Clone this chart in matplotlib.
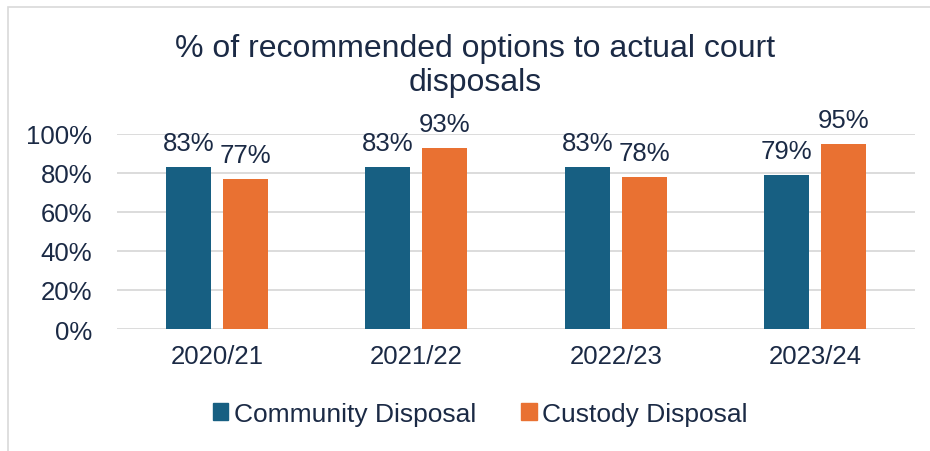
import matplotlib
matplotlib.use("Agg")
import matplotlib.pyplot as plt
from matplotlib.patches import Rectangle, Patch
import numpy as np

categories = ["2020/21", "2021/22", "2022/23", "2023/24"]
community = [83, 83, 83, 79]
custody = [77, 93, 78, 95]
series_names = ["Community Disposal", "Custody Disposal"]
yticks = [0, 20, 40, 60, 80, 100]

c_blue = "#175f82"
c_orange = "#e97132"
txt = "#1b2a45"
grid = "#d9d9d9"

plt.rcParams['font.family'] = ['Liberation Sans', 'DejaVu Sans']

fig = plt.figure(figsize=(9.3, 4.52), dpi=100)
ax = fig.add_axes([117/930, 1-330/452, (915-117)/930, (330-135)/452])

x = np.arange(len(categories))
w = 0.226
off = 0.143
b1 = ax.bar(x - off, community, w, color=c_blue, zorder=3)
b2 = ax.bar(x + off, custody, w, color=c_orange, zorder=3)

for bars, vals in ((b1, community), (b2, custody)):
    for r, v in zip(bars, vals):
        ax.annotate(f"{v}%", (r.get_x() + r.get_width()/2, v),
                    xytext=(0, 12), textcoords="offset points",
                    ha="center", va="baseline", fontsize=18.5, color=txt,
                    annotation_clip=False)

ax.set_xlim(-0.5, len(categories) - 0.5)
ax.set_ylim(0, 100)
ax.set_yticks(yticks)
ax.set_yticklabels([f"{t}%" for t in yticks])
ax.set_xticks(x)
ax.set_xticklabels(categories)
ax.tick_params(axis="both", length=0, labelsize=18.5, labelcolor=txt)
ax.tick_params(axis="y", pad=18)
ax.tick_params(axis="x", pad=11)
ax.yaxis.grid(True, color=grid, linewidth=1.3, zorder=0)
ax.set_axisbelow(True)
for s in ax.spines.values():
    s.set_visible(False)

fig.text(475/930, 1-66/452, "% of recommended options to actual court\ndisposals",
         ha="center", va="center", fontsize=23, color=txt, linespacing=1.15)

handles = [Patch(color=c_blue), Patch(color=c_orange)]
fig.legend(handles, series_names, loc="center", bbox_to_anchor=(480/930, 1-415/452),
           ncol=2, frameon=False, fontsize=19, labelcolor=txt,
           handlelength=0.6, handleheight=0.6, handletextpad=0.2, columnspacing=1.7)

fig.patches.append(Rectangle((8/930, -0.1), 1.2, 1.1 - 8/452, transform=fig.transFigure,
                             fill=False, edgecolor=grid, linewidth=1.2))

fig.savefig("out.png", dpi=100, facecolor="white")
